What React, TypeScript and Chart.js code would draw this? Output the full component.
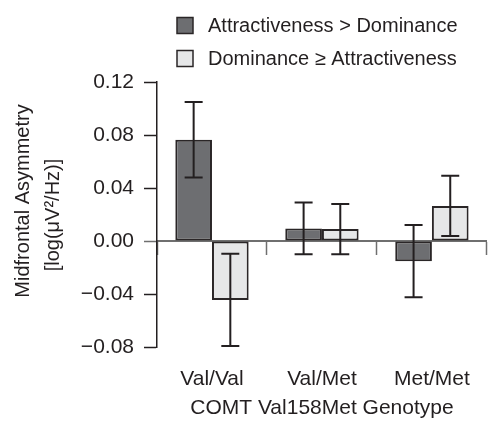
import React, { useEffect, useRef } from "react";
import { Chart, registerables } from "chart.js";

Chart.register(...registerables);

const categories = ["Val/Val", "Val/Met", "Met/Met"];
const seriesLabels = ["Attractiveness > Dominance", "Dominance ≥ Attractiveness"];
const attrMeans = [0.0765, 0.0095, -0.0152];
const attrErrors = [0.0285, 0.0195, 0.0273];
const domMeans = [-0.0445, 0.009, 0.0265];
const domErrors = [0.0348, 0.019, 0.0228];
const yTitleLines = ["Midfrontal Asymmetry", "[log(μV²/Hz)]"];
const xTitle = "COMT Val158Met Genotype";
const yMin = -0.08;
const yMax = 0.12;
const yStep = 0.02;

const FONT = "'Liberation Sans', Arial, sans-serif";
const TEXT = "#231f20";
const DARK_FILL = "#6d6e71";
const LIGHT_FILL = "#e6e7e8";
const EDGE = "#2a2627";
const GRAY = "#6f6f6f";

const errorBarPlugin = {
  id: "errorBars",
  afterDatasetsDraw(chart: any) {
    const ctx = chart.ctx;
    const yScale = chart.scales.y;
    const errs = [attrErrors, domErrors];
    chart.data.datasets.forEach((ds: any, i: number) => {
      const meta = chart.getDatasetMeta(i);
      meta.data.forEach((el: any, j: number) => {
        const v = ds.data[j];
        const e = errs[i][j];
        const yt = yScale.getPixelForValue(v + e);
        const yb = yScale.getPixelForValue(v - e);
        const x = el.x;
        ctx.save();
        ctx.strokeStyle = TEXT;
        ctx.lineWidth = 2;
        ctx.beginPath();
        ctx.moveTo(x, yt);
        ctx.lineTo(x, yb);
        ctx.moveTo(x - 9, yt);
        ctx.lineTo(x + 9, yt);
        ctx.moveTo(x - 9, yb);
        ctx.lineTo(x + 9, yb);
        ctx.stroke();
        ctx.restore();
      });
    });
  },
};

const annotationsPlugin = {
  id: "textExtras",
  afterDraw(chart: any) {
    const ctx = chart.ctx;
    const area = chart.chartArea;
    ctx.save();
    ctx.fillStyle = TEXT;
    ctx.textBaseline = "middle";
    const fills = [DARK_FILL, LIGHT_FILL];
    const lx = area.left + 20;
    const rows = [25.5, 58.5];
    ctx.font = `20px ${FONT}`;
    chart.data.datasets.forEach((ds: any, i: number) => {
      const cy = rows[i];
      ctx.fillStyle = fills[i];
      ctx.fillRect(lx, cy - 8, 16, 16);
      ctx.strokeStyle = EDGE;
      ctx.lineWidth = 1.5;
      ctx.strokeRect(lx, cy - 8, 16, 16);
      ctx.fillStyle = TEXT;
      ctx.textAlign = "left";
      ctx.fillText(ds.label, lx + 31, cy + 1);
    });
    const centers = [
      { x: 23, y: 201 },
      { x: 53, y: 215 },
    ];
    ctx.font = `20px ${FONT}`;
    yTitleLines.forEach((t, i) => {
      ctx.save();
      ctx.translate(centers[i].x, centers[i].y);
      ctx.rotate(-Math.PI / 2);
      ctx.textAlign = "center";
      ctx.fillText(t, 0, 0);
      ctx.restore();
    });
    ctx.restore();
  },
};

export default function App() {
  const ref = useRef<HTMLCanvasElement | null>(null);
  useEffect(() => {
    if (!ref.current) return;
    const chart = new Chart(ref.current, {
      type: "bar",
      data: {
        labels: categories,
        datasets: [
          {
            label: seriesLabels[0],
            data: attrMeans,
            backgroundColor: DARK_FILL,
            borderColor: EDGE,
            borderWidth: 2,
            borderSkipped: false,
          },
          {
            label: seriesLabels[1],
            data: domMeans,
            backgroundColor: LIGHT_FILL,
            borderColor: EDGE,
            borderWidth: 2,
            borderSkipped: false,
          },
        ],
      },
      options: {
        animation: false,
        responsive: false,
        maintainAspectRatio: false,
        layout: { padding: { top: 82, right: 1, left: 0, bottom: 0 } },
        datasets: { bar: { categoryPercentage: 0.667, barPercentage: 1 } },
        plugins: {
          legend: { display: false },
          tooltip: { enabled: false },
        },
        font: { family: FONT, size: 21 },
        scales: {
          x: {
            type: "category",
            position: "bottom",
            offset: true,
            grid: { display: false, drawTicks: false },
            border: { display: false },
            ticks: { color: TEXT, padding: 20, font: { family: FONT, size: 21 } },
            title: {
              display: true,
              text: xTitle,
              color: TEXT,
              font: { family: FONT, size: 21 },
              padding: { top: 0, bottom: 9 },
            },
            afterFit: (s: any) => {
              s.height = 83;
            },
          },
          x0: {
            type: "category",
            axis: "x",
            position: { y: 0 },
            offset: true,
            grid: {
              offset: true,
              drawOnChartArea: false,
              tickLength: 13,
              color: GRAY,
              tickColor: GRAY,
              tickWidth: 1.5,
            },
            border: { display: true, color: GRAY, width: 2 },
            ticks: { display: false },
          },
          y: {
            min: yMin,
            max: yMax,
            position: "left",
            grid: {
              drawOnChartArea: false,
              tickLength: 13,
              tickWidth: 1.5,
              tickColor: (c: any) => (c.tick && Math.abs(c.tick.value) < 1e-9 ? GRAY : TEXT),
              tickBorderDash: (c: any) => {
                const v = c.tick ? c.tick.value : 0;
                const k = Math.round(v / yStep);
                return k % 2 === 0 ? [] : [0, 6, 7, 100];
              },
            },
            border: { display: true, color: TEXT, width: 1.5 },
            ticks: {
              stepSize: yStep,
              padding: 10,
              color: TEXT,
              font: { family: FONT, size: 21 },
              callback: (v: any) => {
                const k = Math.round(Number(v) / yStep);
                if (k % 2 !== 0) return "";
                const n = Number(v);
                if (Math.abs(n) < 1e-9) return "0.00";
                return n < 0 ? "\u2212" + Math.abs(n).toFixed(2) : n.toFixed(2);
              },
            },
            afterFit: (s: any) => {
              s.width = 157;
            },
          },
        },
      },
      plugins: [errorBarPlugin, annotationsPlugin],
    } as any);
    return () => chart.destroy();
  }, []);
  return (
    <div style={{ position: "fixed", left: 0, top: 0, width: 490, height: 430, background: "#fff" }}>
      <canvas ref={ref} width={490} height={430} style={{ width: 490, height: 430, display: "block" }} />
    </div>
  );
}
